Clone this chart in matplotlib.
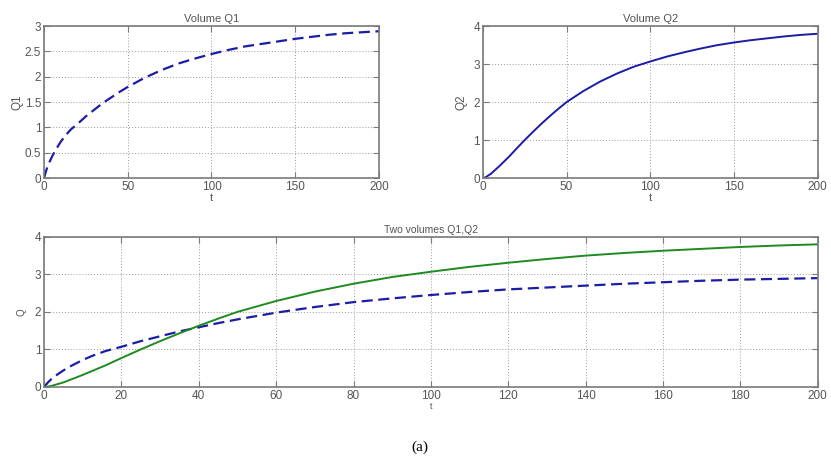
import matplotlib.pyplot as plt
import numpy as np

# values
T = [0, 1, 2, 3, 5, 7, 10, 13, 16, 20, 25, 30, 35, 40, 45, 50, 60, 70, 80, 90,
     100, 110, 120, 130, 140, 150, 160, 170, 180, 190, 200]
Q1 = [0, 0.12, 0.22, 0.3, 0.44, 0.56, 0.72, 0.85, 0.96, 1.07, 1.22, 1.35, 1.48,
      1.59, 1.7, 1.8, 1.98, 2.13, 2.26, 2.36, 2.45, 2.53, 2.6, 2.65, 2.7, 2.75,
      2.79, 2.83, 2.86, 2.88, 2.9]
Q2 = [0, 0.01, 0.03, 0.06, 0.12, 0.2, 0.32, 0.45, 0.58, 0.77, 1.0, 1.22, 1.43,
      1.63, 1.82, 2.0, 2.29, 2.54, 2.75, 2.93, 3.07, 3.2, 3.31, 3.41, 3.5, 3.57,
      3.63, 3.68, 3.73, 3.77, 3.8]

BLUE = "#1c1ca6"
GREEN = "#1f8a1f"
AX_GRAY = "#7a7a7a"
TXT = "#555555"

plt.rcParams["font.family"] = "Liberation Sans"
plt.rcParams["font.size"] = 8


def style(ax, xt, yt, ylim):
    ax.set_xlim(0, 200)
    ax.set_ylim(*ylim)
    ax.set_xticks(xt)
    ax.set_yticks(yt)
    ax.grid(True, ls=(0, (1, 2)), color="#9a9a9a", lw=0.7)
    ax.tick_params(direction="in", top=True, right=True, colors=AX_GRAY,
                   labelcolor=TXT, labelsize=8.5, length=4, pad=2)
    for s in ax.spines.values():
        s.set_color(AX_GRAY)
        s.set_linewidth(1.2)


fig = plt.figure(figsize=(8.31, 4.59), dpi=100)

ax1 = fig.add_axes([0.053, 0.612, 0.403, 0.331])
ax1.plot(T, Q1, color=BLUE, lw=1.6, ls=(0, (5, 2.5)))
style(ax1, range(0, 201, 50), np.arange(0, 3.01, 0.5), (0, 3))
ax1.set_yticklabels(["0", "0.5", "1", "1.5", "2", "2.5", "3"])
ax1.set_title("Volume Q1", fontsize=8, color=TXT, pad=3)
ax1.set_ylabel("Q1", fontsize=8.5, color=TXT, labelpad=1)
ax1.set_xlabel("t", fontsize=8, color=TXT, labelpad=0)

ax2 = fig.add_axes([0.581, 0.612, 0.403, 0.331])
ax2.plot(T, Q2, color=BLUE, lw=1.4)
style(ax2, range(0, 201, 50), range(0, 5), (0, 4))
ax2.set_title("Volume Q2", fontsize=8, color=TXT, pad=3)
ax2.set_ylabel("Q2", fontsize=8.5, color=TXT, labelpad=4)
ax2.set_xlabel("t", fontsize=8, color=TXT, labelpad=0)

ax3 = fig.add_axes([0.053, 0.157, 0.931, 0.327])
ax3.plot(T, Q1, color=BLUE, lw=1.6, ls=(0, (5, 2.5)))
ax3.plot(T, Q2, color=GREEN, lw=1.4)
style(ax3, range(0, 201, 20), range(0, 5), (0, 4))
ax3.set_title("Two volumes Q1,Q2", fontsize=7.5, color=TXT, pad=3)
ax3.set_ylabel("Q", fontsize=7, color=TXT, labelpad=6)
ax3.set_xlabel("t", fontsize=6.5, color=TXT, labelpad=0)

fig.text(0.505, 0.018, "(a)", family="Liberation Serif", fontsize=11, ha="center")

fig.savefig("out.png", dpi=100, facecolor="white")
